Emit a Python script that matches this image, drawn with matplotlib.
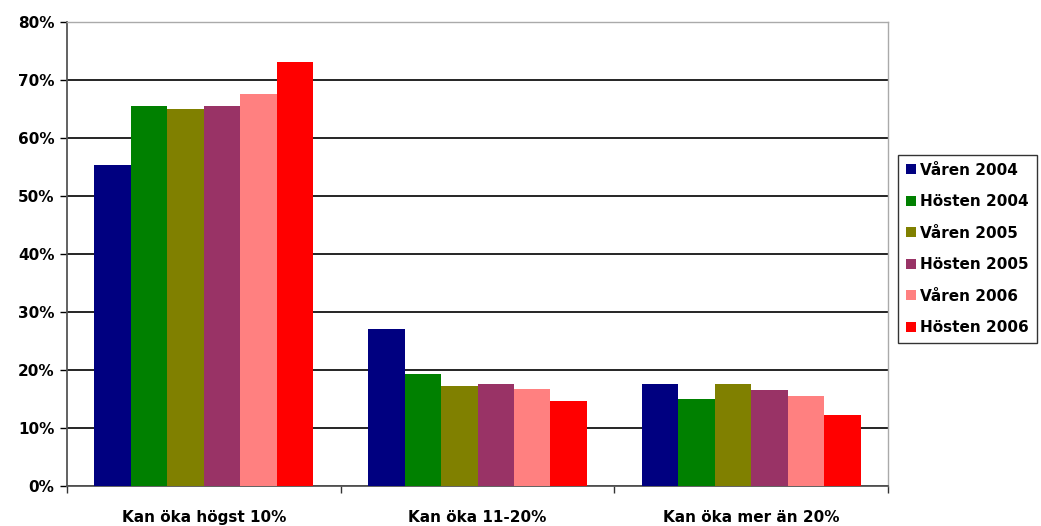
import matplotlib
matplotlib.use("Agg")
import matplotlib.pyplot as plt
import numpy as np
from matplotlib.ticker import FixedLocator, FuncFormatter

categories = ["Kan öka högst 10%", "Kan öka 11-20%", "Kan öka mer än 20%"]
series_names = ["Våren 2004", "Hösten 2004", "Våren 2005", "Hösten 2005", "Våren 2006", "Hösten 2006"]
colors = ["#000080", "#008000", "#808000", "#993366", "#FF8080", "#FF0000"]
varen_2004 = [55.3, 27.1, 17.6]
hosten_2004 = [65.5, 19.3, 15.0]
varen_2005 = [65.0, 17.2, 17.6]
hosten_2005 = [65.6, 17.6, 16.6]
varen_2006 = [67.5, 16.7, 15.5]
hosten_2006 = [73.1, 14.7, 12.2]
series = [varen_2004, hosten_2004, varen_2005, hosten_2005, varen_2006, hosten_2006]
yticks = [0, 10, 20, 30, 40, 50, 60, 70, 80]

plt.rcParams['font.family'] = ['DejaVu Sans']
plt.rcParams['font.weight'] = 'bold'
FS = 10.5

fig = plt.figure(figsize=(10.41, 5.26), dpi=100)
ax = fig.add_axes([67/1041, 1 - 486/526, (888-67)/1041, (486-22)/526])

n = len(series)
bw = 0.8 / n
x = np.arange(len(categories))
for i, (name, vals, c) in enumerate(zip(series_names, series, colors)):
    ax.bar(x - 0.4 + bw * (i + 0.5), vals, width=bw, color=c, label=name, zorder=3, linewidth=0)

ax.set_xlim(-0.5, len(categories) - 0.5)
ax.set_ylim(0, 80)
ax.yaxis.set_major_locator(FixedLocator(yticks))
ax.yaxis.set_major_formatter(FuncFormatter(lambda v, p: f"{int(v)}%"))
ax.grid(axis='y', color='black', linewidth=1.2, zorder=0)
ax.set_axisbelow(True)

ax.set_xticks(x)
ax.set_xticklabels(categories, fontsize=FS + 0.5, fontweight='bold')
ax.tick_params(axis='x', length=0, pad=17)
ax.set_xticks(np.arange(len(categories) + 1) - 0.5, minor=True)
ax.tick_params(axis='x', which='minor', length=5, width=1, color='#333333')
ax.tick_params(axis='y', length=5, width=1, labelsize=FS + 0.5, pad=4, color='black')
for lab in ax.get_yticklabels():
    lab.set_fontweight('bold')

for s in ['left', 'bottom']:
    ax.spines[s].set_color('#555555')
    ax.spines[s].set_linewidth(1.3)
for s in ['top', 'right']:
    ax.spines[s].set_color('#aaaaaa')
    ax.spines[s].set_linewidth(1)

leg = ax.legend(loc='center left', bbox_to_anchor=(898/1041, 1 - 249/526), bbox_transform=fig.transFigure,
                fontsize=FS + 0.5, frameon=True, fancybox=False, edgecolor='black',
                handlelength=0.65, handleheight=0.65, handletextpad=0.3, labelspacing=1.08,
                borderpad=0.5, borderaxespad=0)
leg.get_frame().set_linewidth(1)
for t in leg.get_texts():
    t.set_fontweight('bold')

fig.savefig("out.png", dpi=100)
